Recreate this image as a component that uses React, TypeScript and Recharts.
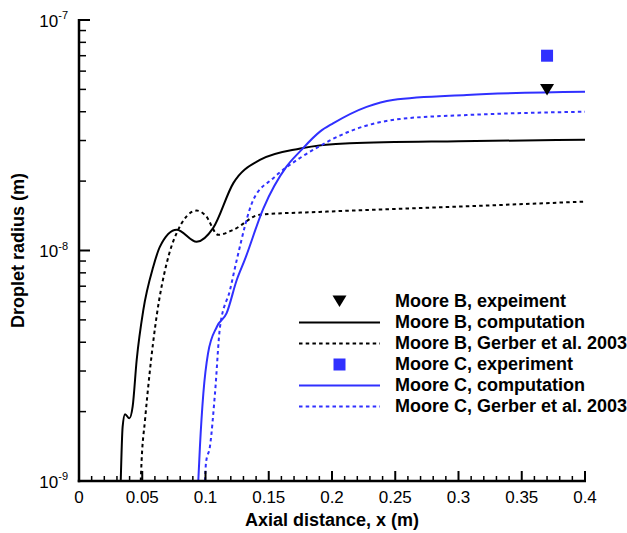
import React from 'react';
import { ComposedChart, Line, Scatter, XAxis, YAxis } from 'recharts';

// Moore B, computation
const bCompX = [0.033, 0.0345, 0.0364, 0.0398, 0.0424, 0.0456, 0.0508, 0.0587, 0.064, 0.0772, 0.093, 0.106, 0.122, 0.143, 0.175, 0.214, 0.3, 0.4];
const bCompY = [1e-9, 1.72e-9, 1.95e-9, 1.87e-9, 2.1e-9, 3.35e-9, 5.5e-9, 8.5e-9, 1.04e-8, 1.23e-8, 1.09e-8, 1.25e-8, 1.96e-8, 2.47e-8, 2.77e-8, 2.92e-8, 2.98e-8, 3.02e-8];

// Moore B, Gerber et al. 2003
const bGerbX = [0.0488, 0.0495, 0.0522, 0.0561, 0.0614, 0.0693, 0.0772, 0.093, 0.1, 0.11, 0.122, 0.143, 0.19, 0.3, 0.4];
const bGerbY = [1e-9, 1.23e-9, 1.84e-9, 3.03e-9, 5.2e-9, 8.8e-9, 1.19e-8, 1.49e-8, 1.42e-8, 1.17e-8, 1.23e-8, 1.43e-8, 1.47e-8, 1.55e-8, 1.63e-8];

// Moore C, computation
const cCompX = [0.0943, 0.0956, 0.0983, 0.102, 0.109, 0.1167, 0.1247, 0.131, 0.1457, 0.164, 0.1747, 0.1905, 0.2008, 0.2274, 0.248, 0.3065, 0.4];
const cCompY = [1e-9, 1.41e-9, 2.4e-9, 3.58e-9, 4.67e-9, 5.35e-9, 7.45e-9, 9.1e-9, 1.52e-8, 2.31e-8, 2.69e-8, 3.28e-8, 3.56e-8, 4.2e-8, 4.5e-8, 4.73e-8, 4.88e-8];

// Moore C, Gerber et al. 2003
const cGerbX = [0.0996, 0.1004, 0.1035, 0.1075, 0.1115, 0.1194, 0.1247, 0.1378, 0.1536, 0.1747, 0.1905, 0.2008, 0.2166, 0.2538, 0.3065, 0.4];
const cGerbY = [1e-9, 1.2e-9, 1.41e-9, 2.4e-9, 4.67e-9, 6.75e-9, 9.1e-9, 1.66e-8, 2.06e-8, 2.52e-8, 2.84e-8, 3.05e-8, 3.33e-8, 3.72e-8, 3.87e-8, 4.0e-8];

// experiments
const bExpX = [0.37];
const bExpY = [5.0e-8];
const cExpX = [0.37];
const cExpY = [7.0e-8];

const xTicks = [
  0, 0.01, 0.02, 0.03, 0.04, 0.05, 0.06, 0.07, 0.08, 0.09, 0.1,
  0.11, 0.12, 0.13, 0.14, 0.15, 0.16, 0.17, 0.18, 0.19, 0.2,
  0.21, 0.22, 0.23, 0.24, 0.25, 0.26, 0.27, 0.28, 0.29, 0.3,
  0.31, 0.32, 0.33, 0.34, 0.35, 0.36, 0.37, 0.38, 0.39, 0.4,
];
const yTicks = [
  1e-9, 2e-9, 3e-9, 4e-9, 5e-9, 6e-9, 7e-9, 8e-9, 9e-9,
  1e-8, 2e-8, 3e-8, 4e-8, 5e-8, 6e-8, 7e-8, 8e-8, 9e-8, 1e-7,
];

const legendLabels = [
  'Moore B, expeiment',
  'Moore B, computation',
  'Moore B, Gerber et al. 2003',
  'Moore C, experiment',
  'Moore C, computation',
  'Moore C, Gerber et al. 2003',
];

const zip = (xs: number[], ys: number[]) => xs.map((x, i) => ({ x, y: ys[i] }));

const BLUE = '#3030ff';
const FONT = '"Liberation Sans", Arial, Helvetica, sans-serif';
const DOTS = '3.5 3.2';

const W = 627;
const H = 533;
const MARGIN = { top: 20, right: 42, left: 0, bottom: 0 };
const Y_AXIS_W = 79;
const X_AXIS_H = 52;
const X_DOMAIN = [0, 0.4];
const Y_DOMAIN = [1e-9, 1e-7];

const X_MARGIN = 8;
const Y_MARGIN = 11;

const isMajorX = (v: number) => Math.round(v * 100) % 5 === 0;
const isMajorY = (v: number) => Math.abs(Math.log10(v) - Math.round(Math.log10(v))) < 1e-6;

const XTick = (props: any) => {
  const { x, y, payload } = props;
  const v = payload.value;
  if (!isMajorX(v)) return <g />;
  return (
    <text x={x} y={y - X_MARGIN + 22} textAnchor="middle" fontSize={17}>
      {String(Math.round(v * 100) / 100)}
    </text>
  );
};

const YTick = (props: any) => {
  const { x, y, payload } = props;
  const v = payload.value;
  if (!isMajorY(v)) return <g />;
  return (
    <text x={x} y={y + 6.5} textAnchor="end" fontSize={17}>
      <tspan>10</tspan>
      <tspan dy={-7.5} fontSize={11}>{String(Math.round(Math.log10(v)))}</tspan>
    </text>
  );
};

// inward tick marks and the heavy axis lines, laid over the plot box
const AxisFrame = () => {
  const left = MARGIN.left + Y_AXIS_W;
  const right = W - MARGIN.right;
  const top = MARGIN.top;
  const bottom = H - MARGIN.bottom - X_AXIS_H;
  const sx = (v: number) => left + ((v - X_DOMAIN[0]) / (X_DOMAIN[1] - X_DOMAIN[0])) * (right - left);
  const ly0 = Math.log10(Y_DOMAIN[0]);
  const ly1 = Math.log10(Y_DOMAIN[1]);
  const sy = (v: number) => bottom - ((Math.log10(v) - ly0) / (ly1 - ly0)) * (bottom - top);
  return (
    <svg width={W} height={H} style={{ position: 'absolute', left: 0, top: 0, pointerEvents: 'none' }}>
      {xTicks.map((v) => (
        <line key={`x${v}`} x1={sx(v)} x2={sx(v)} y1={bottom} y2={bottom - (isMajorX(v) ? 10 : 5)} stroke="#000" strokeWidth={isMajorX(v) ? 2 : 1.5} />
      ))}
      {yTicks.map((v) => (
        <line key={`y${v}`} x1={left} x2={left + (isMajorY(v) ? 11 : 7)} y1={sy(v)} y2={sy(v)} stroke="#000" strokeWidth={isMajorY(v) ? 2 : 1.5} />
      ))}
      <line x1={left} x2={left} y1={top - 1} y2={bottom + 1.25} stroke="#000" strokeWidth={2.5} />
      <line x1={left - 1.25} x2={right + 1} y1={bottom} y2={bottom} stroke="#000" strokeWidth={2.5} />
    </svg>
  );
};

const triangleDown = (props: any) => {
  const { cx, cy } = props;
  return <polygon points={`${cx - 7},${cy - 5.5} ${cx + 7},${cy - 5.5} ${cx},${cy + 6}`} fill="#000" />;
};

const square = (props: any) => {
  const { cx, cy } = props;
  return <rect x={cx - 6} y={cy - 6} width={12} height={12} fill={BLUE} />;
};

const LegendSymbol: React.FC<{ index: number }> = ({ index }) => {
  switch (index) {
    case 0:
      return <polygon points="33.5,4.5 47.5,4.5 40.5,16" fill="#000" />;
    case 1:
      return <line x1={0} x2={81} y1={10.5} y2={10.5} stroke="#000" strokeWidth={2} />;
    case 2:
      return <line x1={0} x2={81} y1={10.5} y2={10.5} stroke="#000" strokeWidth={2} strokeDasharray={DOTS} />;
    case 3:
      return <rect x={34.5} y={4.5} width={12} height={12} fill={BLUE} />;
    case 4:
      return <line x1={0} x2={81} y1={10.5} y2={10.5} stroke={BLUE} strokeWidth={2} />;
    default:
      return <line x1={0} x2={81} y1={10.5} y2={10.5} stroke={BLUE} strokeWidth={2} strokeDasharray={DOTS} />;
  }
};

const ChartLegend = () => (
  <div style={{ position: 'absolute', left: 299, top: 291, width: 328, overflow: 'hidden', fontWeight: 'bold', fontSize: 18 }}>
    {legendLabels.map((label, i) => (
      <div key={label} style={{ display: 'flex', alignItems: 'center', height: 21, lineHeight: '21px', whiteSpace: 'nowrap' }}>
        <svg width={81} height={21} style={{ display: 'block', marginRight: 15, flexShrink: 0 }}>
          <LegendSymbol index={i} />
        </svg>
        <span>{label}</span>
      </div>
    ))}
  </div>
);

export default function App() {
  return (
    <div style={{ position: 'absolute', left: 0, top: 0, width: W, height: H, overflow: 'hidden', fontFamily: FONT }}>
      <ComposedChart width={W} height={H} margin={MARGIN}>
        <XAxis
          dataKey="x"
          type="number"
          domain={X_DOMAIN}
          ticks={xTicks}
          interval={0}
          tick={<XTick />}
          tickLine={false}
          tickSize={0}
          tickMargin={X_MARGIN}
          height={X_AXIS_H}
          axisLine={false}
          allowDataOverflow
          label={{
            value: 'Axial distance, x (m)',
            position: 'insideBottom',
            offset: 7,
            style: { fontFamily: FONT, fontWeight: 'bold', fontSize: 18, fill: '#000' },
          }}
        />
        <YAxis
          type="number"
          scale="log"
          domain={Y_DOMAIN}
          ticks={yTicks}
          interval={0}
          tick={<YTick />}
          tickLine={false}
          tickSize={0}
          tickMargin={Y_MARGIN}
          width={Y_AXIS_W}
          axisLine={false}
          allowDataOverflow
          label={{
            value: 'Droplet radius (m)',
            angle: -90,
            position: 'insideLeft',
            offset: 18,
            style: { textAnchor: 'middle', fontFamily: FONT, fontWeight: 'bold', fontSize: 18, fill: '#000' },
          }}
        />
        <Line data={zip(bCompX, bCompY)} dataKey="y" type="monotone" stroke="#000" strokeWidth={2} dot={false} isAnimationActive={false} />
        <Line data={zip(bGerbX, bGerbY)} dataKey="y" type="monotone" stroke="#000" strokeWidth={2} strokeDasharray={DOTS} dot={false} isAnimationActive={false} />
        <Line data={zip(cCompX, cCompY)} dataKey="y" type="monotone" stroke={BLUE} strokeWidth={2} dot={false} isAnimationActive={false} />
        <Line data={zip(cGerbX, cGerbY)} dataKey="y" type="monotone" stroke={BLUE} strokeWidth={2} strokeDasharray={DOTS} dot={false} isAnimationActive={false} />
        <Scatter data={zip(bExpX, bExpY)} dataKey="y" shape={triangleDown} isAnimationActive={false} />
        <Scatter data={zip(cExpX, cExpY)} dataKey="y" shape={square} isAnimationActive={false} />
      </ComposedChart>
      <AxisFrame />
      <ChartLegend />
    </div>
  );
}
